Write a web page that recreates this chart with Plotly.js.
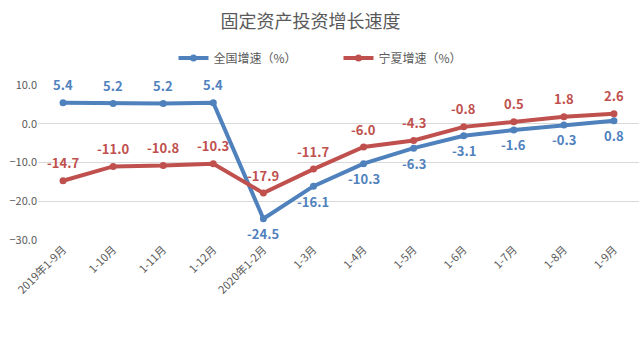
<!DOCTYPE html>
<html><head><meta charset="utf-8">
<script src="https://cdn.plot.ly/plotly-3.0.1.min.js"></script>
<style>body{margin:0;background:#fff}#c{width:640px;height:354px}</style>
</head><body><div id="c"></div>
<script>
const categories = ["2019年1-9月","1-10月","1-11月","1-12月","2020年1-2月","1-3月","1-4月","1-5月","1-6月","1-7月","1-8月","1-9月"];
const nationalName = "全国增速（%）";
const ningxiaName = "宁夏增速（%）";
const national = [5.4,5.2,5.2,5.4,-24.5,-16.1,-10.3,-6.3,-3.1,-1.6,-0.3,0.8];
const ningxia = [-14.7,-11.0,-10.8,-10.3,-17.9,-11.7,-6.0,-4.3,-0.8,0.5,1.8,2.6];
const nationalAbove = [true,true,true,true,false,false,false,false,false,false,false,false];

const blue = "#4F81BD", red = "#C0504D";
const font = "Noto Sans CJK SC, sans-serif";
const x = categories.map((c,i)=>i);

const traces = [
 {x:x,y:national,name:nationalName,type:"scatter",mode:"lines+markers",line:{color:blue,width:4},marker:{color:blue,size:7}},
 {x:x,y:ningxia,name:ningxiaName,type:"scatter",mode:"lines+markers",line:{color:red,width:4},marker:{color:red,size:7}}
];
const ann = [];
national.forEach((v,i)=>ann.push({x:i,y:v,text:v.toFixed(1),showarrow:false,yshift:nationalAbove[i]?18:-15,font:{family:font,size:13,color:blue,weight:"bold"}}));
ningxia.forEach((v,i)=>ann.push({x:i,y:v,text:v.toFixed(1),showarrow:false,yshift:18,font:{family:font,size:13,color:red,weight:"bold"}}));

const layout = {
 width:640,height:354,
 margin:{l:38,r:1,t:85,b:114},
 paper_bgcolor:"#fff",plot_bgcolor:"#fff",
 title:{text:"固定资产投资增长速度",x:0.485,xanchor:"center",y:0.94,yanchor:"middle",font:{family:font,size:18,color:"#595959"}},
 showlegend:true,
 legend:{orientation:"h",x:0.5,xanchor:"center",y:1.175,yanchor:"middle",font:{family:font,size:12,color:"#595959"},entrywidth:120,entrywidthmode:"pixels",itemwidth:30},
 xaxis:{range:[-0.5,11.5],tickmode:"array",tickvals:x,ticktext:categories,tickangle:-45,showgrid:false,zeroline:false,showline:false,ticks:"",tickfont:{family:font,size:11,color:"#595959"}},
 yaxis:{range:[-30,10],dtick:10,tick0:0,tickformat:".1f",showgrid:true,gridcolor:"#D9D9D9",gridwidth:1,zeroline:false,showline:false,ticks:"",tickfont:{family:font,size:11,color:"#595959"}},
 annotations:ann
};
Plotly.newPlot("c",traces,layout,{displayModeBar:false,staticPlot:true});
</script></body></html>
